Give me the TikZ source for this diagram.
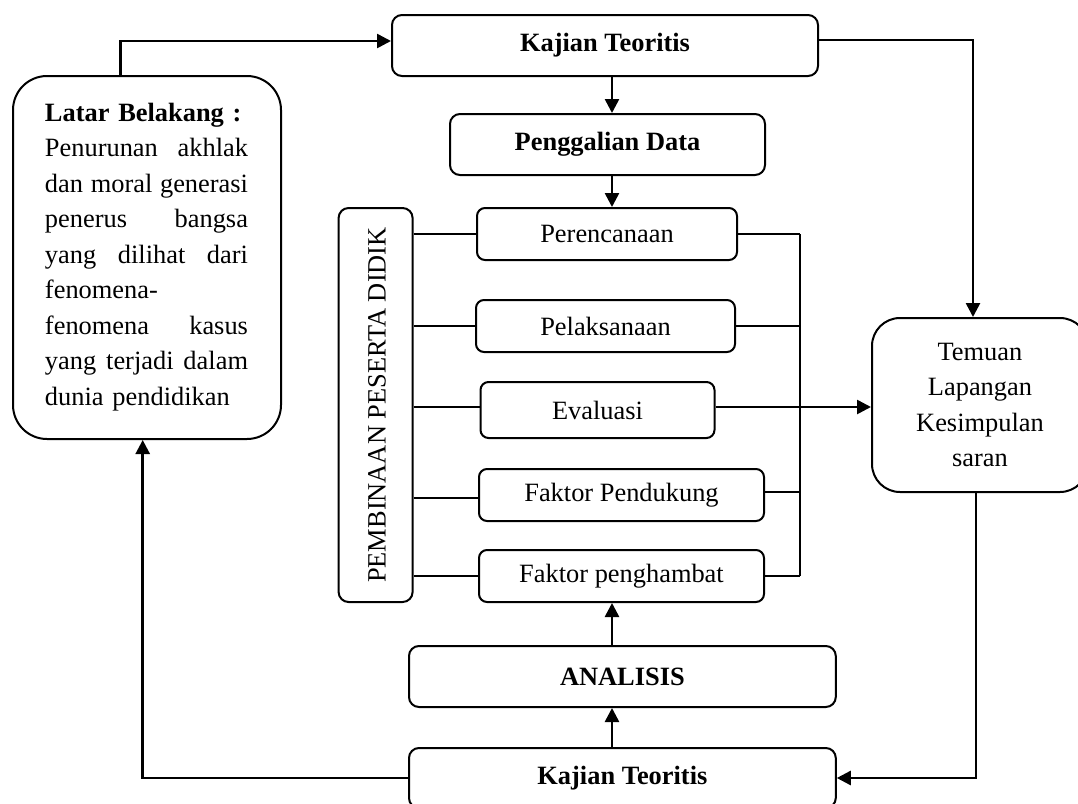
\documentclass[tikz,border=0pt]{standalone}
\usepackage{fontspec}
\setmainfont{Liberation Serif}
\usetikzlibrary{arrows.meta}
\newcommand\jl[1]{\leavevmode\hbox to 101.5pt{#1}}
\tikzset{
  box/.style={draw, line width=1pt, rounded corners=4pt, inner sep=0pt, align=center,
    font=\fontsize{13.2}{17.6}\selectfont},
  arr/.style={line width=1.3pt, -{Triangle[length=7pt,width=7pt]}},
  ln/.style={line width=1pt},
}
\begin{document}
\begin{tikzpicture}[x=0.5pt,y=-0.5pt]
\useasboundingbox (0,0) rectangle (1078,804);
\clip (0,0) rectangle (1078,804);
% boxes
\node[box, rounded corners=5pt, minimum width=213pt, minimum height=30.5pt] (kt1) at (605,45.5) {\bfseries Kajian Teoritis};
\node[box, rounded corners=17pt, minimum width=134pt, minimum height=181.5pt] (latar) at (147,257.5) {};
\node[font=\fontsize{13.2}{17.75}\selectfont, text width=101.5pt, inner sep=0pt] (latartext) at (146.5,257) {%
\parindent=0pt
\textbf{Latar Belakang :}\\
\jl{Penurunan\hfill akhlak}\\
\jl{dan\hfill moral\hfill generasi}\\
\jl{penerus\hfill bangsa}\\
\jl{yang\hfill dilihat\hfill dari}\\
fenomena-\\
\jl{fenomena\hfill kasus}\\
\jl{yang\hfill terjadi\hfill dalam}\\
dunia pendidikan};
\node[box, rounded corners=5pt, minimum width=157.5pt, minimum height=30.5pt] (pg) at (607.5,144.5) {\bfseries Penggalian Data};
\node[box, rounded corners=5pt, minimum width=37pt, minimum height=197pt] (pemb) at (375.6,405) {};
\node[font=\fontsize{13.2}{17.6}\selectfont, rotate=90, inner sep=0pt] (pembtext) at (377,405) {PEMBINAAN PESERTA DIDIK};
\node[box, minimum width=130pt, minimum height=26pt] (per) at (607,234) {Perencanaan};
\node[box, minimum width=129.5pt, minimum height=26pt] (pel) at (605.5,326) {Pelaksanaan};
\node[box, minimum width=117pt, minimum height=28pt] (eva) at (597.5,410) {Evaluasi};
\node[box, minimum width=142.5pt, minimum height=26pt] (fp) at (621.5,495) {Faktor Pendukung};
\node[box, minimum width=142.5pt, minimum height=26pt] (fh) at (621.5,576) {Faktor penghambat};
\node[box, rounded corners=14pt, minimum width=108pt, minimum height=87pt] (tem) at (980,405) {Temuan\\Lapangan\\Kesimpulan\\saran};
\node[box, rounded corners=5pt, minimum width=213.4pt, minimum height=30.5pt] (ana) at (622.4,676.5) {\bfseries ANALISIS};
\node[box, rounded corners=5pt, minimum width=213.4pt, minimum height=30pt] (kt2) at (622.4,778) {\bfseries Kajian Teoritis};
% bus coordinates
\coordinate (bt) at (800,234);
\coordinate (bb) at (800,576);
% connectors
\draw[arr] ([xshift=-13.25pt]latar.north) |- ([yshift=2.25pt]kt1.west);
\draw[arr] ([yshift=2.75pt]kt1.east) -| ([xshift=-3.5pt]tem.north);
\draw[arr] ([xshift=3.5pt]kt1.south) -- ([xshift=2.25pt]pg.north);
\draw[arr] ([xshift=2.25pt]pg.south) -- ([xshift=2.5pt]per.north);
\draw[ln] (pemb.east |- per.west) -- (per.west);
\draw[ln] (pemb.east |- pel.west) -- (pel.west);
\draw[ln] ([yshift=1.5pt]pemb.east |- eva.west) -- ([yshift=1.5pt]eva.west);
\draw[ln] ([yshift=-1.5pt]pemb.east |- fp.west) -- ([yshift=-1.5pt]fp.west);
\draw[ln] (pemb.east |- fh.west) -- (fh.west);
\draw[ln] (per.east) -- (per.east -| bt);
\draw[ln] (pel.east) -- (pel.east -| bt);
\draw[ln] ([yshift=1.5pt]fp.east) -- ([yshift=1.5pt]fp.east -| bt);
\draw[ln] (fh.east) -- (fh.east -| bb);
\draw[ln] (bt) -- (bb);
\draw[arr] ([yshift=1.5pt]eva.east) -- ([yshift=1.5pt]eva.east -| tem.west);
\draw[arr] ([xshift=-2pt]tem.south) |- (kt2.east);
\draw[arr] ([xshift=-5.2pt]kt2.north) -- ([xshift=-5.2pt]ana.south);
\draw[arr] ([xshift=-5.2pt]ana.north) -- ([xshift=-4.75pt]fh.south);
\draw[arr] (kt2.west) -| ([xshift=-2.15pt]latar.south);
\end{tikzpicture}
\end{document}
